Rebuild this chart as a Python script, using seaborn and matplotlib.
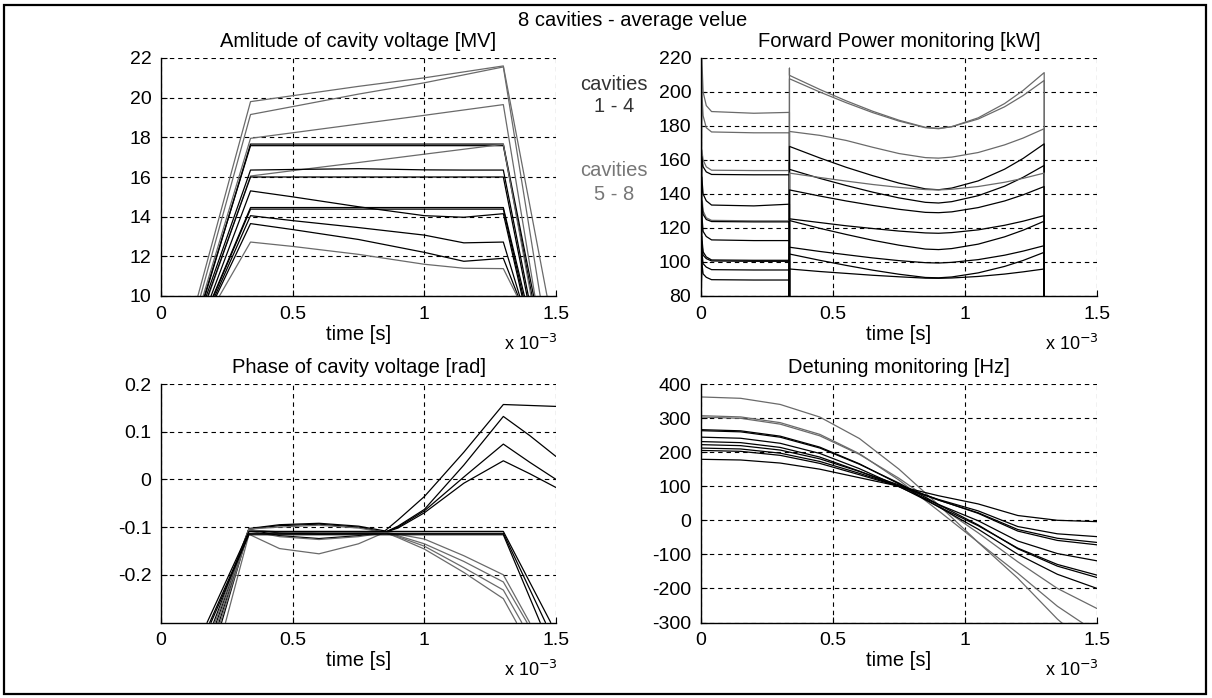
import numpy as np
import pandas as pd
import matplotlib
matplotlib.use("Agg")
import matplotlib.pyplot as plt
from matplotlib.patches import Rectangle
import seaborn as sns

sns.set_style("white")
plt.rcParams["font.family"] = ["Liberation Sans", "DejaVu Sans"]

# ---------------- data (time in units of 1e-3 s) ----------------
# Amplitude of cavity voltage [MV]
amp_t = [0.34, 0.5, 0.75, 1.0, 1.15, 1.3]
amp_lines = [
    [19.8, 20.1, 20.57, 21.0, 21.3, 21.6],
    [19.15, 19.55, 20.18, 20.75, 21.15, 21.55],
    [17.95, 18.23, 18.67, 19.11, 19.38, 19.65],
    [17.58, 17.58, 17.58, 17.58, 17.58, 17.58],
    [17.66, 17.66, 17.66, 17.66, 17.66, 17.66],
    [16.05, 16.32, 16.73, 17.15, 17.4, 17.65],
    [16.35, 16.38, 16.42, 16.36, 16.35, 16.35],
    [16.0, 16.0, 16.0, 16.0, 16.0, 16.0],
    [15.3, 15.0, 14.5, 14.05, 13.97, 14.15],
    [14.38, 14.38, 14.38, 14.38, 14.38, 14.38],
    [14.46, 14.46, 14.46, 14.46, 14.46, 14.46],
    [14.05, 13.8, 13.45, 13.07, 12.68, 12.72],
    [13.65, 13.35, 12.85, 12.2, 11.75, 11.9],
    [12.72, 12.5, 12.1, 11.6, 11.4, 11.38],
]
amp_on = [0.14, 0.15, 0.16, 0.165, 0.167, 0.18, 0.172, 0.178, 0.19, 0.2, 0.198, 0.205, 0.21, 0.222]
amp_off = [1.466, 1.44, 1.42, 1.409, 1.415, 1.405, 1.395, 1.39, 1.371, 1.375, 1.38, 1.362, 1.356, 1.352]
amp_gray = [1, 1, 1, 0, 0, 1, 0, 0, 0, 0, 0, 0, 0, 1]

# Forward power [kW]
fp_fill_t = [0.0, 0.003, 0.008, 0.02, 0.04, 0.2, 0.335]
fp_fill = [
    [70, 220, 200, 192, 188.5, 187.5, 188],
    [70, 200, 186, 179, 176.5, 176, 176],
    [70, 166, 160, 156, 154, 153.8, 153.8],
    [70, 162, 156, 153, 151.5, 151.3, 151.3],
    [70, 150, 140, 136, 133.5, 133, 134],
    [70, 140, 130, 126, 124.5, 124.2, 124.2],
    [70, 136, 128, 125, 123.8, 123.6, 123.6],
    [70, 128, 118, 115, 113, 112.6, 112.6],
    [70, 115, 106, 103, 101.2, 101, 101],
    [70, 112, 104, 102, 100.6, 100.4, 100.4],
    [70, 106, 99, 97, 95.5, 95.3, 95.3],
    [70, 100, 93, 91, 89.6, 89.4, 89.4],
]
fp_jump = [214, 207.8, 176.8, 168, 159, 152.3, 142.4, 125.4, 124.4, 108.7, 104.7, 95.9]
fp_t2 = [0.335, 0.45, 0.55, 0.65, 0.75, 0.85, 0.9, 0.95, 1.05, 1.15, 1.22, 1.3]
fp_run = [
    [209.8, 201.5, 194.8, 188.7, 183.4, 179.2, 178.6, 179.6, 184.1, 191.3, 197.9, 206.8],
    [207.8, 200.0, 193.7, 187.9, 182.9, 179.0, 178.4, 179.6, 184.8, 193.2, 200.9, 211.4],
    [176.8, 174.5, 171.5, 167.5, 163.8, 161.4, 161.1, 161.7, 164.4, 168.9, 172.9, 178.4],
    [168.0, 161.2, 155.7, 150.8, 146.4, 143.0, 142.5, 143.5, 147.7, 154.6, 160.9, 169.5],
    [154.5, 149.2, 145.0, 141.1, 137.7, 135.1, 134.7, 135.5, 139.0, 144.6, 149.8, 156.8],
    [152.3, 149.7, 147.6, 145.6, 143.9, 142.6, 142.4, 142.8, 144.4, 146.9, 149.2, 152.3],
    [142.4, 138.8, 135.9, 133.3, 131.0, 129.2, 129.0, 129.5, 132.0, 135.9, 139.5, 144.4],
    [125.4, 123.2, 121.3, 119.7, 118.2, 117.1, 116.9, 117.3, 118.9, 121.6, 124.0, 127.3],
    [124.4, 119.8, 116.2, 112.8, 109.9, 107.6, 107.3, 107.9, 110.5, 114.8, 118.7, 124.0],
    [108.7, 106.2, 104.3, 102.4, 100.8, 99.6, 99.4, 99.8, 101.4, 104.0, 106.4, 109.6],
    [104.7, 101.0, 98.0, 95.2, 92.8, 90.9, 90.7, 91.2, 93.6, 97.4, 100.9, 105.7],
    [95.9, 94.4, 93.3, 92.2, 91.3, 90.5, 90.4, 90.6, 91.5, 92.9, 94.2, 95.9],
]
fp_gray = [1, 1, 1, 0, 0, 1, 0, 0, 0, 0, 0, 0]

# Phase of cavity voltage [rad]
ph_t = [0.334, 0.45, 0.6, 0.75, 0.85, 0.9, 1.0, 1.15, 1.3]
ph_lines = [
    [-0.103, -0.095, -0.092, -0.098, -0.108, -0.085, -0.036, 0.057, 0.157],
    [-0.104, -0.097, -0.094, -0.100, -0.111, -0.098, -0.063, 0.030, 0.132],
    [-0.106, -0.112, -0.115, -0.113, -0.111, -0.100, -0.066, 0.005, 0.074],
    [-0.105, -0.118, -0.124, -0.118, -0.111, -0.102, -0.070, -0.008, 0.039],
    [-0.104, -0.100, -0.096, -0.102, -0.111, -0.115, -0.125, -0.160, -0.200],
    [-0.106, -0.110, -0.112, -0.112, -0.111, -0.118, -0.135, -0.172, -0.215],
    [-0.108, -0.120, -0.126, -0.120, -0.112, -0.120, -0.140, -0.185, -0.232],
    [-0.115, -0.145, -0.156, -0.135, -0.111, -0.122, -0.146, -0.195, -0.250],
    [-0.109, -0.109, -0.109, -0.109, -0.109, -0.109, -0.109, -0.109, -0.109],
    [-0.113, -0.113, -0.113, -0.113, -0.113, -0.113, -0.113, -0.113, -0.113],
    [-0.116, -0.116, -0.116, -0.116, -0.116, -0.116, -0.116, -0.116, -0.116],
]
ph_on = [0.2, 0.21, 0.22, 0.23, 0.205, 0.215, 0.225, 0.245, 0.175, 0.185, 0.19]
ph_tail_t = [[1.4, 1.5], [1.4, 1.5], [1.4, 1.5], [1.4, 1.5],
             [1.40], [1.39], [1.37], [1.35], [1.48], [1.46], [1.44]]
ph_tail_v = [[0.155, 0.153], [0.092, 0.048], [0.036, 0.0], [0.012, -0.017],
             [-0.3], [-0.3], [-0.3], [-0.3], [-0.3], [-0.3], [-0.3]]
ph_gray = [0, 0, 0, 0, 1, 1, 1, 1, 0, 0, 0]

# Detuning [Hz]
det_t = [0, 0.15, 0.3, 0.45, 0.6, 0.75, 0.9, 1.05, 1.2, 1.35, 1.5]
det_lines = [
    [362, 358, 340, 303, 240, 150, 45, -65, -170, -290, -390],
    [307, 303.4, 286.6, 252.2, 195.5, 117.8, 27.8, -64.4, -155.5, -252.3, -330],
    [303, 299.3, 282.2, 247.9, 193.4, 123.2, 42.8, -37, -121.9, -200, -259],
    [266, 262.6, 246.9, 214.7, 165.8, 106.6, 39.1, -26.2, -99.8, -158.5, -200],
    [263, 259.6, 243.8, 212.1, 164.5, 109.1, 46, -13.7, -83.7, -134.6, -168],
    [244, 240.8, 226, 196.2, 151.5, 99.4, 40.1, -16, -81.8, -129.6, -161],
    [231, 227.9, 213.9, 185.5, 144.2, 98.4, 46.2, -1.4, -60.9, -97.7, -119],
    [222, 219.1, 206.1, 180.3, 143.2, 103.8, 59.7, 20.3, -31.7, -59.1, -72],
    [212, 209.3, 197, 172.7, 137.8, 100.6, 59.1, 22, -27.1, -52.8, -65],
    [205, 202.4, 190.6, 167, 133.7, 99.5, 61, 27.6, -18.4, -39.7, -48],
    [179, 177, 168, 150, 125, 100, 72, 48, 14, 0, -4],
]
det_gray = [1, 1, 1, 0, 0, 0, 0, 0, 0, 0, 0]

x_ticks = [0, 0.5, 1, 1.5]
x_ticklabels = ["0", "0.5", "1", "1.5"]

GRAY = "#6a6a6a"
BLACK = "#000000"
FS = 14.5
FS_TICK = 14

W, H = 1212, 698
fig = plt.figure(figsize=(W / 100, H / 100), dpi=100)
fig.patch.set_facecolor("white")


def px_axes(l, t, r, b):
    return fig.add_axes([l / W, 1 - b / H, (r - l) / W, (b - t) / H])


ax_amp = px_axes(161, 58, 556, 296)
ax_fp = px_axes(701, 58, 1097, 296)
ax_ph = px_axes(161, 384, 556, 622.5)
ax_det = px_axes(701, 384, 1097, 622.5)


def draw(ax, x, y, gray, lw=0.9):
    df = pd.DataFrame({"t": x, "v": y})
    sns.lineplot(data=df, x="t", y="v", ax=ax, color=GRAY if gray else BLACK,
                 lw=lw, estimator=None, sort=False, legend=False)


# amplitude
for vals, ton, toff, g in zip(amp_lines, amp_on, amp_off, amp_gray):
    draw(ax_amp, [ton] + amp_t + [toff], [10] + vals + [10], g)

# forward power
for fill, jump, run, g in zip(fp_fill, fp_jump, fp_run, fp_gray):
    xs = fp_fill_t + [0.335, 0.335] + fp_t2 + [1.3, 1.5]
    ys = fill + [70, jump] + run + [70, 70]
    draw(ax_fp, xs, ys, g)

# phase
for vals, ton, tt, tv, g in zip(ph_lines, ph_on, ph_tail_t, ph_tail_v, ph_gray):
    draw(ax_ph, [ton] + ph_t + tt, [-0.3] + vals + tv, g)

# detuning
for vals, g in zip(det_lines, det_gray):
    draw(ax_det, det_t, vals, g)


def style(ax, ylim, yticks, ylabels, title, pad):
    ax.set_xlim(0, 1.5)
    ax.set_ylim(*ylim)
    ax.set_xticks(x_ticks)
    ax.set_xticklabels(x_ticklabels)
    ax.set_yticks(yticks)
    ax.set_yticklabels(ylabels)
    ax.grid(True, color="k", ls=(0, (4, 3.5)), lw=0.8)
    for s in ("top", "right"):
        ax.spines[s].set_visible(False)
    for s in ("left", "bottom"):
        ax.spines[s].set_color("k")
        ax.spines[s].set_linewidth(1.0)
    ax.tick_params(direction="in", length=4, width=0.8, labelsize=FS_TICK, pad=7,
                   colors="k", left=True, bottom=True)
    ax.set_title(title, fontsize=FS, pad=pad, color="k")
    ax.set_xlabel("time [s]", fontsize=FS, color="k")
    ax.set_ylabel("")
    ax.xaxis.set_label_coords(0.5, -0.12)
    ax.text(1.005, -0.2, r"x 10$^{-3}$", transform=ax.transAxes, ha="right",
            va="center", fontsize=13, color="k")


style(ax_amp, (10, 22), list(range(10, 23, 2)), [str(v) for v in range(10, 23, 2)],
      "Amlitude of cavity voltage [MV]", 8)
style(ax_fp, (80, 220), list(range(80, 221, 20)), [str(v) for v in range(80, 221, 20)],
      "Forward Power monitoring [kW]", 8)
style(ax_ph, (-0.3, 0.2), [-0.2, -0.1, 0, 0.1, 0.2], ["-0.2", "-0.1", "0", "0.1", "0.2"],
      "Phase of cavity voltage [rad]", 8)
style(ax_det, (-300, 400), list(range(-300, 401, 100)), [str(v) for v in range(-300, 401, 100)],
      "Detuning monitoring [Hz]", 8)

fig.text(633 / W, 1 - 20 / H, "8 cavities - average velue", ha="center", va="center",
         fontsize=FS, color="k")
fig.text(614 / W, 1 - 85 / H, "cavities", ha="center", va="center", fontsize=FS, color="#333333")
fig.text(614 / W, 1 - 107 / H, "1 - 4", ha="center", va="center", fontsize=FS, color="#333333")
fig.text(614 / W, 1 - 171 / H, "cavities", ha="center", va="center", fontsize=FS, color="#777777")
fig.text(614 / W, 1 - 194 / H, "5 - 8", ha="center", va="center", fontsize=FS, color="#777777")

fig.add_artist(Rectangle((4 / W, 4 / H), (1206 - 4) / W, (693 - 4) / H,
                         transform=fig.transFigure, fill=False, ec="k", lw=1.6))

fig.savefig("out.png", dpi=100, facecolor="white")
